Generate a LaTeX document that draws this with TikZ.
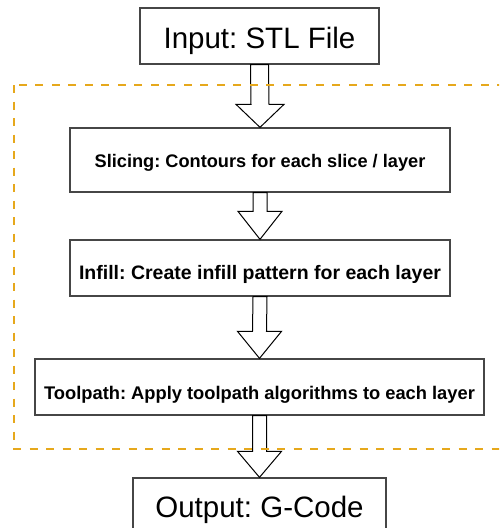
\documentclass[tikz,border=0pt]{standalone}
\usepackage{fontspec}
\setmainfont{Liberation Sans}
\usetikzlibrary{calc}
\frenchspacing
\definecolor{boxline}{RGB}{70,70,70}
\definecolor{groupline}{RGB}{230,168,28}
\tikzset{
  stagebox/.style={draw=boxline, line width=1.3pt, fill=white, inner sep=0pt,
    font=\bfseries},
  iobox/.style={draw=boxline, line width=1.3pt, fill=white, inner sep=0pt,
    font=\fontsize{29.5}{34}\selectfont},
  blockarrow/.style={draw=black, line width=1pt, fill=white, line join=miter},
  groupframe/.style={draw=groupline, line width=2.6pt, dash pattern=on 8pt off 8.5pt}
}
% text with its baseline #1 below the node centre
\newcommand\lowered[2]{\raisebox{-#1}[0pt][0pt]{#2}}
% hollow block arrow from the bottom of #1 to the top of #2
% #3 shaft width, #4 head width, #5 head length
\newcommand\hollowarrow[5]{%
  \draw[blockarrow]
    ($(#1.south)+(-#3/2,0)$) -- ($(#2.north)+(-#3/2,-#5)$) --
    ($(#2.north)+(-#4/2,-#5)$) -- (#2.north) --
    ($(#2.north)+(#4/2,-#5)$) -- ($(#2.north)+(#3/2,-#5)$) --
    ($(#1.south)+(#3/2,0)$) -- cycle;}
\begin{document}
\begin{tikzpicture}[x=1pt,y=-1pt]
  \useasboundingbox (0,0) rectangle (499,528);
  \clip (0,0) rectangle (499,528);

  \node[iobox, minimum width=239pt, minimum height=56pt] (input) at (259.5,36)
    {\lowered{12pt}{Input: STL File}};
  \node[stagebox, minimum width=380pt, minimum height=64pt] (slice) at (260,160)
    {\fontsize{18.2}{22}\selectfont\lowered{7.7pt}{Slicing: Contours for each slice / layer}};
  \node[stagebox, minimum width=380pt, minimum height=56pt] (infill) at (260,268)
    {\fontsize{19.5}{23}\selectfont\lowered{11pt}{Infill: Create infill pattern for each layer}};
  \node[stagebox, minimum width=449pt, minimum height=56pt] (toolpath) at (259.5,387)
    {\fontsize{18.3}{22}\selectfont\lowered{12.7pt}{Toolpath: Apply toolpath algorithms to each layer}};
  \node[iobox, minimum width=253pt, minimum height=64pt] (output) at (259.5,510)
    {\lowered{7.8pt}{Output: G-Code}};

  \hollowarrow{input}{slice}{18}{48}{23}
  \hollowarrow{slice}{infill}{14}{44}{28}
  \hollowarrow{infill}{toolpath}{14}{44}{27}
  \hollowarrow{toolpath}{output}{14}{44}{26}

  % group frame around the processing stages
  \coordinate (gtl) at (14,85);
  \coordinate (gbr) at (506,449);
  \draw[groupframe] (gtl) rectangle (gbr);
\end{tikzpicture}
\end{document}
